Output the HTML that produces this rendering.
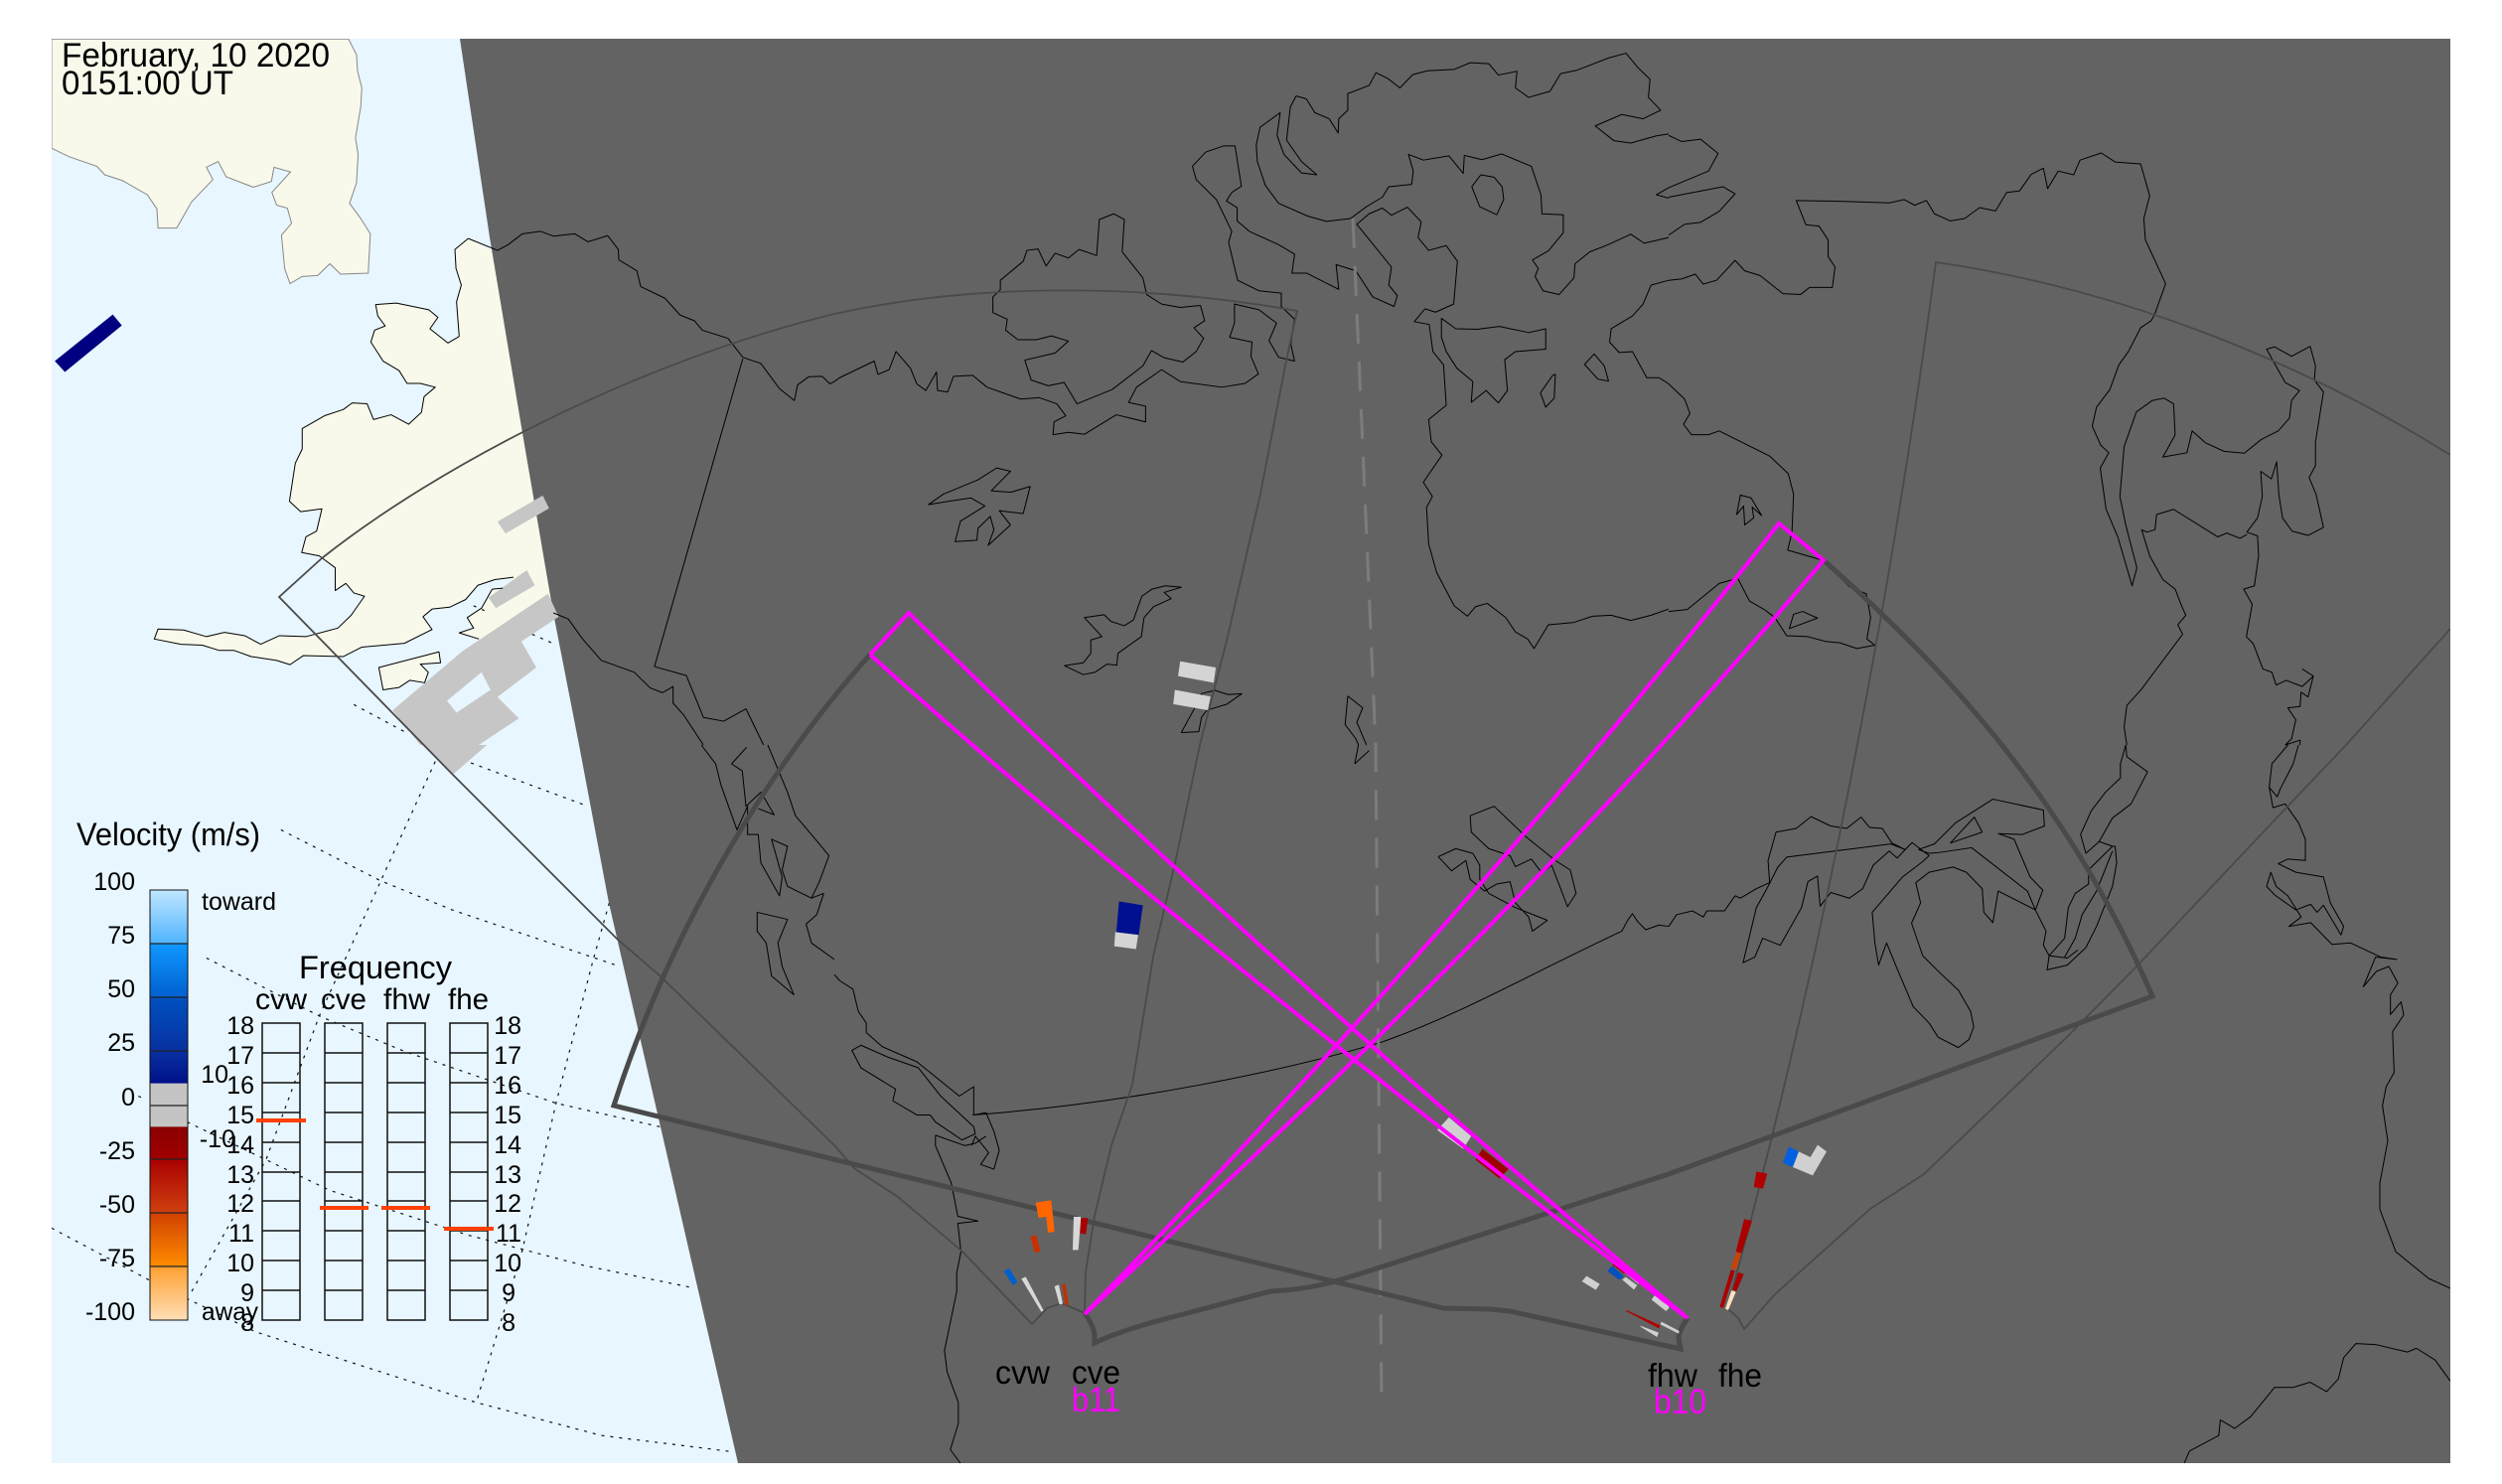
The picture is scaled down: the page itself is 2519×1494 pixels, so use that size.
<!DOCTYPE html>
<html><head><meta charset="utf-8"><style>
html,body{margin:0;padding:0;background:#fff}
svg{display:block}
text{font-family:"Liberation Sans",sans-serif;fill:#000}
polyline,polygon,path{vector-effect:non-scaling-stroke}
.c polyline,.c polygon,.c path{fill:none;stroke:#000;stroke-width:1;stroke-linejoin:round}
.t polyline,.t path{fill:none;stroke:#4a4a4a;stroke-width:1.8}
.k path{fill:none;stroke:#4a4a4a;stroke-width:5;stroke-linejoin:miter}
.d polyline{fill:none;stroke:#111;stroke-width:1.2;stroke-dasharray:3 6}
.m path,.m polyline{fill:none;stroke:#ff00ff;stroke-width:4}
.n text{font-size:25px}
</style></head><body>
<svg width="2519" height="1494" viewBox="0 0 2519 1494" xmlns="http://www.w3.org/2000/svg">
<defs>
<linearGradient id="cb" x1="0" y1="896" x2="0" y2="1329" gradientUnits="userSpaceOnUse">
<stop offset="0" stop-color="#c0e6ff"/><stop offset=".124" stop-color="#50b4ff"/>
<stop offset=".125" stop-color="#1098ff"/><stop offset=".25" stop-color="#0060d0"/>
<stop offset=".251" stop-color="#0050c0"/><stop offset=".375" stop-color="#0830a0"/>
<stop offset=".449" stop-color="#00108a"/><stop offset=".45" stop-color="#c4c4c4"/>
<stop offset=".55" stop-color="#c4c4c4"/><stop offset=".551" stop-color="#8a0000"/>
<stop offset=".624" stop-color="#a00000"/><stop offset=".625" stop-color="#a80000"/>
<stop offset=".75" stop-color="#d04010"/><stop offset=".751" stop-color="#d04000"/>
<stop offset=".874" stop-color="#ff8c00"/><stop offset=".875" stop-color="#ffa030"/>
<stop offset="1" stop-color="#ffdfb8"/>
</linearGradient>
<clipPath id="f"><rect x="52" y="39" width="2415" height="1434"/></clipPath>
</defs>
<rect x="52" y="39" width="2415" height="1434" fill="#e8f6ff"/>
<g clip-path="url(#f)">

<!-- land on water -->
<g transform="scale(.5357,.4783)" fill="#f8f9ea" stroke="#888" stroke-width="1">
<polygon points="97,82 655,82 670,115 672,150 680,185 678,225 668,290 673,325 670,385 657,428 678,460 696,492 692,575 640,577 620,555 597,580 568,582 545,597 535,565 529,495 548,470 540,438 520,432 511,405 546,362 515,352 510,382 476,394 425,372 410,340 388,352 400,378 360,425 332,480 297,480 295,440 277,410 230,380 197,368 182,350 130,330 97,312"/>
<polygon stroke="none" points="880,502 855,525 857,565 867,600 858,635 863,708 842,722 808,692 823,668 806,652 745,638 706,641 710,665 724,686 704,695 697,720 720,760 750,780 765,807 790,807 818,815 797,835 792,868 768,893 735,873 702,883 690,850 662,848 645,862 610,875 568,902 568,945 555,975 544,1055 565,1077 605,1071 595,1118 575,1130 567,1163 600,1170 630,1195 630,1243 650,1228 665,1248 685,1255 660,1295 635,1322 575,1340 525,1338 490,1356 460,1338 422,1331 388,1340 345,1326 297,1324 290,1345 340,1356 380,1358 412,1369 440,1369 472,1382 520,1390 545,1399 570,1380 645,1382 680,1362 760,1354 812,1325 795,1298 812,1282 845,1278 875,1262 898,1232 930,1220 965,1215 945,1238 925,1240 905,1280 878,1300 890,1322 863,1332 900,1345 1060,1300 1100,800 925,527"/>
<polygon stroke="none" points="712,1405 825,1372 828,1395 790,1398 805,1415 798,1437 770,1432 750,1447 720,1452"/>
</g>

<!-- dotted grid on water -->
<g class="d" transform="translate(0,750) scale(.5357,.4745)">
<polyline points="885,38 1105,130"/>
<polyline points="528,180 715,288 850,350 1165,470"/>
<polyline points="388,452 600,575 760,650 1045,760 1240,810"/>
<polyline points="260,745 270,750"/>
<polyline points="352,800 500,880 620,945 880,1040 1100,1105 1295,1150"/>
<polyline points="97,1025 280,1135 352,1175 480,1245 895,1395 1130,1465 1380,1500"/>
<polyline points="818,35 715,290 600,575 500,880 355,1170"/>
<polyline points="1145,335 1115,455 1045,760 980,1080 895,1395"/>
</g>
<g class="d" transform="scale(.5357,.4783)">
<polyline points="665,1483 760,1540"/>
<polyline points="890,1275 920,1290"/>
<polyline points="1000,1335 1045,1357"/>
<polyline points="890,1435 870,1480"/>
</g>

<!-- terminator -->
<polygon fill="#636363" points="463,39 2467,39 2467,1473 743,1473 664,1130 613,909 583,750 557,617 525,430 493,239"/>

<!-- data patches on the water / land -->
<g transform="scale(.5357,.4783)">
<polygon fill="#000080" points="103,760 212,662 229,685 122,783"/>
<g fill="#c6c6c6">
<polygon points="935,1098 1020,1043 1032,1070 950,1123"/>
<polygon points="918,1258 990,1200 1005,1232 932,1280"/>
<polygon points="738,1495 870,1370 1030,1250 1050,1298 980,1350 1008,1405 935,1467 975,1512 900,1568 790,1568"/>
</g>
<polygon fill="#e8f6ff" points="840,1475 905,1415 922,1452 858,1500"/>
</g>
<g transform="translate(0,750) scale(.5357,.4745)"><polygon fill="#c6c6c6" points="795,0 915,0 852,62"/></g>

<!-- coastlines zone 1 -->
<g class="c" transform="scale(.5357,.4783)">
<polyline points="880,502 855,525 857,565 867,600 858,635 863,708 842,722 808,692 823,668 806,652 745,638 706,641 710,665 724,686 704,695 697,720 720,760 750,780 765,807 790,807 818,815 797,835 792,868 768,893 735,873 702,883 690,850 662,848 645,862 610,875 568,902 568,945 555,975 544,1055 565,1077 605,1071 595,1118 575,1130 567,1163 600,1170 630,1195 630,1243 650,1228 665,1248 685,1255 660,1295 635,1322 575,1340 525,1338 490,1356 460,1338 422,1331 388,1340 345,1326 297,1324 290,1345 340,1356 380,1358 412,1369 440,1369 472,1382 520,1390 545,1399 570,1380 645,1382 680,1362 760,1354 812,1325 795,1298 812,1282 845,1278 875,1262 898,1232 930,1220 965,1215"/>
<polyline points="945,1238 925,1240 905,1280 878,1300 890,1322 863,1332 900,1345"/>
<polygon points="712,1405 825,1372 828,1395 790,1398 805,1415 798,1437 770,1432 750,1447 720,1452"/>
<polyline points="880,502 935,527 955,515 982,492 1016,487 1040,497 1080,492 1105,509 1142,496 1162,525 1163,547 1197,570 1204,603 1250,628 1278,663 1305,675 1320,695 1368,712 1396,752 1430,765 1465,818 1493,843 1499,810 1520,793 1545,792 1560,808 1568,803"/>
<polyline points="1396,755 1230,1403 1290,1422 1322,1510 1360,1518 1402,1492 1435,1568"/>
<polyline points="1040,1290 1068,1303 1095,1345 1130,1390 1192,1415 1222,1448 1245,1458 1265,1445 1265,1480 1285,1505 1322,1568"/>
</g>

<!-- coastlines zone 2 -->
<g class="c" transform="translate(0,750) scale(.5357,.4745)">
<polyline points="1318,0 1345,40 1355,85 1385,180 1405,130 1405,190 1425,190 1430,250 1465,320 1470,280 1450,200 1480,215 1470,265 1480,300 1525,325"/>
<polyline points="1403,5 1375,40 1395,55 1402,130 1430,100 1455,148 1425,135"/>
<polyline points="1443,0 1480,100 1495,150 1540,210 1558,235 1540,290 1525,325 1548,315 1535,360 1515,380 1525,420 1568,455"/>
<polygon points="1423,355 1480,370 1462,420 1470,470 1492,530 1450,490 1440,420 1423,395"/>
</g>

<!-- coastlines zone 3 -->
<g class="c" transform="translate(840,0) scale(.5357,.4783)">
<polyline points="0,803 10,795 75,760 82,788 103,778 116,740 143,775 155,808 172,822 192,783 194,822 213,825 224,792 260,790 287,815 350,840 385,837 418,850 435,875 413,888 411,915 440,910 470,914 530,873 585,888 585,855 553,847 568,815 615,778 650,803 728,815 772,807 797,787 783,750 785,720 743,710 752,680 752,640 798,652 831,680 817,717 835,752 865,760 858,725 862,690 865,672 840,645 840,617 798,612 758,590 741,510 747,487 718,420 680,378 673,350 698,320 732,307 753,307 765,392 747,405 737,423 757,437 757,465 780,487 835,515 865,535 860,575 888,575 948,609 943,557 980,570 1012,625 1052,645 1058,622 1042,600 1047,562 982,472 1005,450 1030,438 1047,453 1077,436 1103,467 1097,500 1117,527 1150,517 1171,550 1164,640 1130,657 1110,650 1090,677 1118,683 1125,740 1145,768 1150,853 1117,883 1122,930 1142,958 1107,1015 1124,1045 1113,1068 1117,1145 1132,1205 1165,1275 1190,1297 1205,1277 1227,1270 1262,1300 1280,1330 1303,1345 1315,1365 1342,1315 1390,1310 1425,1297 1460,1295 1497,1306 1535,1295 1568,1282"/>
<polygon points="312,590 355,550 362,527 383,524 398,560 415,533 440,543 460,525 493,538 498,462 525,450 545,462 541,530 580,585 587,620 615,640 650,647 688,643 696,675 676,690 694,712 680,740 655,762 620,753 596,738 580,770 522,820 456,850 432,805 402,812 370,800 358,758 415,743 440,718 408,707 380,715 345,715 322,695 325,672 298,658 298,625 312,610"/>
<polyline points="907,368 878,364 845,325 832,285 838,237 800,268 793,305 795,340 810,390 835,428 890,455 925,466 970,460 1000,435 1030,415 1042,393 1085,388 1088,360 1079,325 1107,337 1155,328 1182,365 1184,327 1217,336 1254,324 1310,350 1328,410 1330,450 1370,452 1370,490 1342,528 1312,547 1323,565 1317,582 1332,612 1362,620 1390,585 1392,555 1420,530 1450,517 1497,493 1522,512 1568,500"/>
<polyline points="907,368 878,340 850,295 857,225 868,202 887,208 903,237 930,250 947,280 948,250 965,232 965,197 1005,180 1018,153 1040,165 1063,185 1087,157 1115,149 1165,146 1195,132 1230,134 1248,158 1283,150 1280,185 1305,205 1345,192 1365,155 1395,148 1455,122 1488,112 1510,142 1533,167 1530,205 1553,232 1520,250 1480,241 1430,265 1465,296 1497,301 1545,286 1568,282"/>
<polygon points="1198,393 1215,368 1240,373 1255,393 1258,420 1245,452 1213,435"/>
<polygon points="1141,670 1168,692 1208,693 1250,687 1305,700 1337,692 1337,735 1280,740 1260,757 1265,822 1248,848 1225,822 1197,847 1200,803 1170,775 1150,740 1141,710"/>
<polygon points="1327,827 1350,790 1355,788 1353,838 1337,857"/>
<polygon points="1410,767 1428,745 1447,770 1455,802 1435,798"/>
<polyline points="1568,395 1545,410 1568,417"/>
<polyline points="1568,590 1535,600 1520,640 1500,665 1460,692 1457,720 1475,742 1500,740 1527,795 1550,795 1568,808"/>
<polygon points="177,1062 205,1040 270,1010 305,985 331,992 295,1033 332,1036 368,1024 355,1081 310,1075 331,1105 289,1148 300,1115 293,1087 270,1112 268,1137 227,1140 237,1097 283,1065 257,1048 215,1055"/>
<polyline points="432,1401 468,1395 482,1375 482,1347 503,1340 470,1300 507,1294 520,1308 545,1317 562,1305 578,1255 597,1240 622,1233 652,1236 620,1247 633,1260 600,1277 582,1300 577,1340 533,1375 531,1400 512,1398 490,1415 468,1420 432,1401"/>
<polyline points="652,1542 675,1495 690,1460 715,1453 740,1462 766,1460 738,1482 700,1495 690,1510 685,1540 652,1542"/>
<polyline points="965,1465 993,1490 982,1520 1000,1568"/>
<polyline points="965,1465 960,1525 980,1555 985,1568"/>
</g>

<!-- coastlines zone 4 -->
<g class="c" transform="translate(1680,0) scale(.5351,.4783)">
<polyline points="0,285 25,298 60,293 93,323 75,360 0,395"/>
<polyline points="0,415 102,393 125,408 95,445 60,468 30,472 0,495"/>
<polyline points="0,808 30,840 40,870 28,893 43,915 75,915 95,907 190,960 225,997 235,1040 232,1120 224,1158 292,1180 340,1235 372,1250 380,1300 373,1345 388,1358 354,1365 322,1353 295,1350 262,1340 222,1338 200,1300 180,1283 152,1265 130,1217 95,1228 35,1283 0,1287"/>
<polyline points="0,590 25,587 50,577 65,598 90,590 125,548 143,570 172,580 215,618 248,620 265,605 308,605 313,562 300,540 300,505 283,476 258,473 240,422 330,424 415,427 443,420 463,432 485,422 500,450 530,465 557,460 585,437 615,444 636,405 660,402 682,367 705,354 713,397 733,360 762,368 774,337 814,322 840,341 888,345 905,412 894,460 897,505 935,597 915,660 908,675 888,690 865,740 847,768 830,820 805,857 797,897 813,937 828,953 812,985 823,1072 845,1130 872,1233 881,1195 860,1105 849,1045 857,940 880,867 910,843 932,838 950,850 953,915 930,962 975,953 985,907 1010,932 1045,950 1083,954 1115,925 1147,907 1168,880 1172,843 1187,822 1160,805 1125,735 1140,730 1172,750 1207,729 1217,770 1215,800 1232,825 1217,930 1217,980 1205,1005 1218,1040 1232,1110 1203,1127 1173,1118 1155,1090 1148,1040 1144,972 1134,1008 1114,992 1117,1045 1108,1090 1088,1120 1108,1128 1110,1170 1102,1233 1082,1240 1098,1272 1087,1340 1100,1355 1118,1408 1135,1415 1143,1442 1162,1432 1192,1445 1213,1423 1192,1408"/>
<polyline points="1213,1423 1203,1467 1190,1457 1188,1487 1165,1490 1180,1515 1172,1555 1160,1568"/>
<polyline points="1160,1568 1188,1558 1188,1568"/>
<polyline points="1088,1125 1075,1133 1050,1122 1033,1130 950,1072 918,1083 915,1115 900,1120 890,1115 905,1170 930,1220 953,1240 965,1275 973,1295 958,1315 967,1335 890,1450 862,1485 857,1530 862,1568"/>
<polygon points="135,1042 155,1048 175,1085 157,1067 160,1090 143,1105 141,1065 128,1083"/>
<polygon points="235,1293 252,1287 280,1301 227,1323"/>
</g>

<!-- coastlines zone 5 -->
<g class="c" transform="translate(840,750) scale(.5357,.4745)">
<polyline points="0,487 10,500 35,518 45,565 60,590 60,610 90,640 155,672 235,745 262,725 262,785 285,780 300,820 310,860 300,900 275,890 290,865 265,830 258,850"/>
<polygon points="33,648 50,637 100,662 158,685 200,745 262,810 265,825 240,838 190,800 180,785 155,785 110,755 115,730 50,685"/>
<polyline points="190,828 245,850 265,845 285,830"/>
<polyline points="190,828 190,850 220,930 232,1000 270,1010 232,1015 238,1075 230,1120 230,1160 207,1285 212,1330 233,1395 233,1440 218,1495 237,1524"/>
<path d="M260 785C560 760 850 690 1030 630C1180 570 1300 490 1480 395L1492 370 1500 358 1510 375 1525 392 1550 382 1568 385"/>
<polyline points="978,40 985,0"/>
<polyline points="978,40 1005,12"/>
<polygon points="1195,150 1240,130 1300,195 1355,245 1383,265 1394,315 1378,343 1348,255 1330,272 1310,242 1280,258 1270,235 1230,220 1197,185"/>
<polyline points="1135,237 1168,220 1200,230 1213,255 1213,285 1230,315 1280,345 1340,372 1312,395 1305,365 1280,335 1270,290 1245,295 1222,310 1195,285 1187,245 1160,267 1135,237"/>
</g>

<!-- coastlines zone 6 -->
<g class="c" transform="translate(1680,750) scale(.5351,.4745)">
<polyline points="0,385 15,360 45,352 65,365 72,352 105,352 125,320 135,325 165,305 190,292"/>
<polygon points="140,462 162,450 177,410 210,425 250,345 262,290 280,278 285,342 305,313 340,325 365,305 385,255 415,225 430,240 445,222 418,210 222,238 205,260 187,300 165,345"/>
<polyline points="190,292 187,245 202,185 240,177 268,152 305,172 335,177 362,153 378,175 402,177 420,208 445,222 458,207 490,235 475,250 440,280 383,355 388,420 395,467 410,420 430,475 460,555 490,590 507,620 545,642 565,625 574,598 568,565 545,520 510,483 478,447 457,378 474,335 465,292 490,270 535,259 560,270 590,305 593,355 610,377 620,310 690,350"/>
<polyline points="470,222 500,210 540,165 610,115 705,138 707,172 665,190 620,188 650,200 680,280 704,308 690,350 710,395 705,425 716,447 750,452 770,435"/>
<polyline points="470,222 490,230 510,228 570,218 675,310 690,350"/>
<polygon points="530,208 575,153 590,185"/>
<polygon points="712,477 716,447 745,410 752,345 765,315 790,295 790,265 835,215 840,215 843,250 835,300 805,385 785,430 750,467"/>
<polyline points="745,450 765,410 778,360 805,310 835,225"/>
<polyline points="860,0 850,40 850,70 822,100 795,140 775,190 785,230 810,205 835,215"/>
<polyline points="860,0 862,25 901,57 870,125 835,155 810,205"/>
<polyline points="1185,0 1175,40 1150,95 1145,110 1130,90 1135,40 1165,0"/>
<polyline points="1130,90 1137,133 1160,125 1185,165 1198,200 1198,245 1165,242 1147,252 1180,270 1232,280 1245,335 1270,385 1265,403 1232,340 1220,355 1208,338 1180,350 1140,318 1125,300 1133,270 1143,300 1165,320 1190,365 1167,385 1208,377 1248,423 1283,420 1340,450 1370,455 1330,450 1307,513 1332,480 1355,470 1372,505 1358,530 1358,572 1378,545 1383,573 1362,608 1365,695 1350,725 1343,765 1353,840 1338,930 1338,985 1368,1075 1430,1132 1471,1153"/>
<polyline points="970,1524 980,1498 1035,1465 1038,1432 1065,1450 1095,1425 1140,1363 1175,1363 1207,1352 1238,1372 1260,1345 1270,1300 1293,1270 1330,1272 1390,1288 1407,1280 1442,1305 1471,1350"/>
</g>

<!-- thin sector lines -->
<g class="t">
<path d="M1039 1333L1054 1317 1069 1312 1092 1322L1093 1281 1102 1224 1119 1153 1140 1092 1161 963 1183 869 1208 750 1236 641 1269 497 1295 363 1306 313C1306 313 1306 313 1306 313C1150 285 980 285 840 316C640 365 440 470 324 562L281 601 455 779 621 945 664 982 840 1153 861 1177 904 1205 969 1260 1039 1333"/>
<path d="M1739 1317L1750 1327 1756 1338 1787 1303 1883 1217 1937 1182 2081 1044 2151 973 2301 814 2362 750 2467 633"/>
<path d="M1739 1317C1840 950 1910 560 1949 264C2130 290 2310 360 2467 458"/>
</g>

<!-- dashed meridian -->
<polyline points="1362,220 1385,750 1391,1414" fill="none" stroke="#7c7c7c" stroke-width="3" stroke-dasharray="30 18"/>

<!-- thick field of view -->
<g class="k">
<path d="M876 659C785 760 680 920 618 1113L1453 1317 1500 1318 1520 1320 1692 1358 1690 1347Q1691 1338 1699 1327"/>
<path d="M1836 564C1950 665 2080 800 2167 1003L1680 1182 1386 1277C1340 1292 1320 1298 1279 1300L1161 1331Q1120 1343 1102 1352L1102 1343Q1100 1333 1092 1322"/>
</g>

<!-- radar data patches -->
<g transform="translate(840,0) scale(.5357,.4783)" fill="#d4d4d4">
<polygon points="650,1392 717,1405 713,1437 646,1423"/>
<polygon points="640,1452 707,1466 702,1495 637,1482"/>
</g>
<g transform="translate(840,750) scale(.5357,.4745)">
<polygon fill="#001090" points="535,332 580,340 572,403 530,397"/>
<polygon fill="#d4d4d4" points="528,397 571,403 567,433 526,427"/>
<polygon fill="#d0d0d0" points="1155,790 1197,830 1182,857 1133,817"/>
<polygon fill="#a00000" points="1218,857 1267,900 1250,920 1205,880"/>
</g>
<g transform="translate(980,1160) scale(.33333)">
<polygon fill="#ff6600" points="188,152 235,145 240,190 245,240 225,243 220,195 197,198"/>
<polygon fill="#c83000" points="172,255 190,250 203,300 185,303"/>
<polygon fill="#d8d8d8" points="303,195 325,195 317,295 300,295"/>
<polygon fill="#aa0000" points="325,200 346,198 340,248 322,245"/>
<polygon fill="#0060d0" points="92,360 108,350 133,392 120,402"/>
<polygon fill="#d8d8d8" points="145,382 158,376 212,478 205,482"/>
<polygon fill="#d8d8d8" points="245,405 258,400 270,458 260,460"/>
<polygon fill="#c03000" points="267,400 278,398 288,460 278,462"/>
</g>
<g transform="translate(1580,1120) scale(.33333)">
<polygon fill="#0060e0" points="645,152 663,103 693,118 675,165"/>
<polygon fill="#d0d0d0" points="675,165 693,118 728,135 750,98 777,118 735,190"/>
<polygon fill="#b00000" points="565,178 598,185 585,230 557,225"/>
<polygon fill="#aa0000" points="528,322 552,327 520,425 503,420"/>
<polygon fill="#d04000" points="505,422 518,425 503,475 488,470"/>
<polygon fill="#aa0000" points="488,475 500,478 465,590 454,588"/>
<polygon fill="#aa0000" points="510,483 527,488 505,540 493,535"/>
<polygon fill="#ffe0c0" points="490,537 503,542 480,597 471,593"/>
<polygon fill="#b00000" points="130,460 140,447 175,475 165,487"/>
<polygon fill="#0050c0" points="115,478 130,463 165,495 150,505"/>
<polygon fill="#d0d0d0" points="160,505 170,497 205,522 195,535"/>
<polygon fill="#d0d0d0" points="172,488 180,482 215,512 208,518"/>
<polygon fill="#d0d0d0" points="38,510 52,494 92,518 80,536"/>
<polygon fill="#b00000" points="168,598 175,598 275,643 270,652"/>
<polygon fill="#d0d0d0" points="212,645 220,646 270,665 265,678"/>
<polygon fill="#d0d0d0" points="278,632 332,660 330,668 275,640"/>
<polygon fill="#d0d0d0" points="248,565 258,552 302,590 292,600"/>
<polygon fill="#d0d0d0" points="258,545 270,545 305,578 298,590"/>
</g>

<!-- magenta beams -->
<g class="m">
<path d="M876 659L915 617C1160 860 1440 1110 1699 1327C1420 1115 1110 870 876 659"/>
<path d="M1092 1323C1330 1075 1570 810 1791 527L1836 564C1600 845 1350 1085 1092 1323"/>
</g>

<!-- radar labels -->
<text x="1002" y="1393" font-size="33" textLength="55" lengthAdjust="spacingAndGlyphs">cvw</text>
<text x="1079" y="1393" font-size="33" textLength="49" lengthAdjust="spacingAndGlyphs">cve</text>
<text x="1079" y="1421" font-size="35" textLength="49" lengthAdjust="spacingAndGlyphs" style="fill:#ff00ff">b11</text>
<text x="1659" y="1396" font-size="33" textLength="50" lengthAdjust="spacingAndGlyphs">fhw</text>
<text x="1730" y="1396" font-size="33" textLength="44" lengthAdjust="spacingAndGlyphs">fhe</text>
<text x="1665" y="1423" font-size="35" textLength="53" lengthAdjust="spacingAndGlyphs" style="fill:#ff00ff">b10</text>

<!-- title -->
<text x="62" y="67" font-size="34" textLength="270" lengthAdjust="spacingAndGlyphs">February, 10 2020</text>
<text x="62" y="95" font-size="34" textLength="173" lengthAdjust="spacingAndGlyphs">0151:00 UT</text>

<!-- colour bar -->
<text x="77" y="851" font-size="32" textLength="185" lengthAdjust="spacingAndGlyphs">Velocity (m/s)</text>
<rect x="151" y="896" width="38" height="433" fill="url(#cb)" stroke="#111" stroke-width="1"/>
<g stroke="#222" stroke-width="1.2">
<line x1="151" x2="189" y1="950" y2="950"/><line x1="151" x2="189" y1="1004" y2="1004"/><line x1="151" x2="189" y1="1058" y2="1058"/><line x1="151" x2="189" y1="1113" y2="1113"/><line x1="151" x2="189" y1="1167" y2="1167"/><line x1="151" x2="189" y1="1221" y2="1221"/><line x1="151" x2="189" y1="1275" y2="1275"/>
</g>
<g class="n" text-anchor="end">
<text x="136" y="896">100</text><text x="136" y="950">75</text><text x="136" y="1004">50</text><text x="136" y="1058">25</text><text x="136" y="1113">0</text><text x="136" y="1167">-25</text><text x="136" y="1221">-50</text><text x="136" y="1275">-75</text><text x="136" y="1329">-100</text>
</g>
<text x="203" y="916" font-size="25" textLength="75" lengthAdjust="spacingAndGlyphs">toward</text>
<text x="203" y="1329" font-size="25" textLength="57" lengthAdjust="spacingAndGlyphs">away</text>

<!-- frequency -->
<text x="301" y="985" font-size="32" textLength="154" lengthAdjust="spacingAndGlyphs">Frequency</text>
<text x="257" y="1016" font-size="30" textLength="52" lengthAdjust="spacingAndGlyphs">cvw</text>
<text x="323" y="1016" font-size="30" textLength="46" lengthAdjust="spacingAndGlyphs">cve</text>
<text x="386" y="1016" font-size="30" textLength="47" lengthAdjust="spacingAndGlyphs">fhw</text>
<text x="451" y="1016" font-size="30" textLength="41" lengthAdjust="spacingAndGlyphs">fhe</text>
<g fill="none" stroke="#111" stroke-width="1.5">
<path d="M264 1030H302V1329H264ZM264 1060H302M264 1090H302M264 1120H302M264 1150H302M264 1180H302M264 1209H302M264 1239H302M264 1269H302M264 1299H302"/>
<path d="M327 1030H365V1329H327ZM327 1060H365M327 1090H365M327 1120H365M327 1150H365M327 1180H365M327 1209H365M327 1239H365M327 1269H365M327 1299H365"/>
<path d="M390 1030H428V1329H390ZM390 1060H428M390 1090H428M390 1120H428M390 1150H428M390 1180H428M390 1209H428M390 1239H428M390 1269H428M390 1299H428"/>
<path d="M453 1030H491V1329H453ZM453 1060H491M453 1090H491M453 1120H491M453 1150H491M453 1180H491M453 1209H491M453 1239H491M453 1269H491M453 1299H491"/>
</g>
<g stroke="#ff4000" stroke-width="4">
<line x1="258" x2="308" y1="1128" y2="1128"/><line x1="322" x2="371" y1="1216" y2="1216"/><line x1="384" x2="433" y1="1216" y2="1216"/><line x1="447" x2="497" y1="1237" y2="1237"/>
</g>
<g class="n" text-anchor="end">
<text x="256" y="1041">18</text><text x="256" y="1071">17</text><text x="256" y="1101">16</text><text x="256" y="1131">15</text><text x="256" y="1161">14</text><text x="256" y="1191">13</text><text x="256" y="1220">12</text><text x="256" y="1250">11</text><text x="256" y="1280">10</text><text x="256" y="1310">9</text><text x="256" y="1340">8</text>
<text x="525" y="1041">18</text><text x="525" y="1071">17</text><text x="525" y="1101">16</text><text x="525" y="1131">15</text><text x="525" y="1161">14</text><text x="525" y="1191">13</text><text x="525" y="1220">12</text><text x="525" y="1250">11</text><text x="525" y="1280">10</text><text x="519" y="1310">9</text><text x="519" y="1340">8</text>
<text x="230" y="1090">10</text><text x="237" y="1155">-10</text>
</g>
</g>
</svg>
</body></html>
